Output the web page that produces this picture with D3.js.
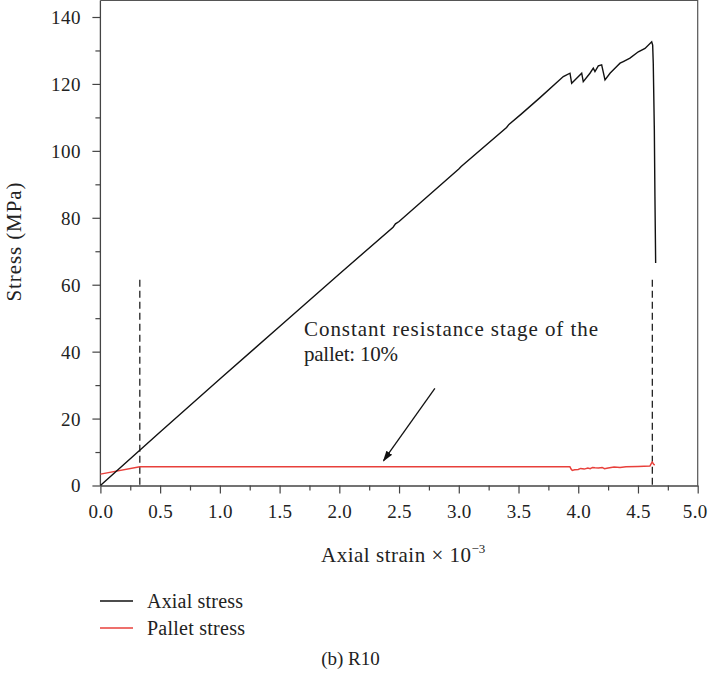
<!DOCTYPE html>
<html>
<head>
<meta charset="utf-8">
<script src="https://cdn.jsdelivr.net/npm/d3@7"></script>
<style>
  html, body { margin: 0; padding: 0; background: #fff; }
  svg { display: block; }
  text { font-family: "Liberation Serif", "DejaVu Serif", serif; fill: #222; }
</style>
</head>
<body>
<svg id="chart" width="709" height="679"></svg>
<script>
// Axial stress–strain curve (strain ×10^-3, stress MPa)
const axialStrain = [0, 0.5, 1.0, 1.5, 2.0, 2.45, 2.47, 2.5, 3.0, 3.02, 3.4, 3.42, 3.52, 3.68, 3.875, 3.931, 3.945, 3.987, 4.029, 4.042, 4.098, 4.126, 4.14, 4.168, 4.196, 4.224, 4.266, 4.322, 4.35, 4.377, 4.433, 4.503, 4.559, 4.615, 4.623, 4.628, 4.637, 4.642, 4.648];
const axialStress = [0, 16.0, 31.8, 47.5, 63.2, 77.2, 78.2, 78.9, 94.6, 95.3, 107.0, 107.9, 110.9, 115.9, 122.2, 123.2, 120.2, 121.7, 123.2, 120.7, 123.2, 124.7, 123.7, 125.4, 125.7, 121.2, 123.2, 125.2, 126.2, 126.7, 127.7, 129.6, 130.6, 132.6, 131.6, 126.2, 106.2, 86.3, 66.5];

// Pallet stress curve
const palletStrain = [0, 0.33, 1.0, 2.0, 3.0, 3.93, 3.94, 3.95, 3.97, 4.0, 4.02, 4.05, 4.08, 4.1, 4.12, 4.14, 4.17, 4.2, 4.22, 4.25, 4.3, 4.35, 4.4, 4.5, 4.6, 4.612, 4.62, 4.63, 4.64];
const palletStress = [3.4, 5.6, 5.6, 5.6, 5.6, 5.6, 4.9, 4.5, 4.7, 4.8, 5.1, 4.9, 5.2, 5.0, 5.4, 5.3, 5.2, 5.4, 5.0, 5.2, 5.5, 5.4, 5.6, 5.7, 5.8, 6.6, 7.0, 6.4, 6.1];

// Boundaries of the constant resistance stage
const stageBounds = [0.33, 4.62];
const stageTop = 61.5;

const xTicks = [0, 0.5, 1.0, 1.5, 2.0, 2.5, 3.0, 3.5, 4.0, 4.5, 5.0];
const yTicks = [0, 20, 40, 60, 80, 100, 120, 140];

const legendItems = [
  { name: "Axial stress", color: "#111", width: 96 },
  { name: "Pallet stress", color: "#e8403b", width: 98 }
];

const svg = d3.select("#chart");
const x = d3.scaleLinear().domain([0, 5]).range([100.4, 697.7]);
const y = d3.scaleLinear().domain([0, 140]).range([485.5, 17]);
const frameTop = 0.5;

// frame (top and right)
svg.append("path")
  .attr("d", `M${x(0)},${frameTop}H${x(5)}V${y(0)}`)
  .attr("fill", "none").attr("stroke", "#555").attr("stroke-width", 1.2);

// x axis
const xAxis = svg.append("g").attr("transform", `translate(0,${y(0)})`)
  .call(d3.axisBottom(x).tickValues(xTicks).tickFormat(d3.format(".1f")).tickSize(8).tickSizeOuter(0));
svg.append("g").attr("transform", `translate(0,${y(0)})`)
  .call(d3.axisBottom(x).tickValues(d3.range(0.25, 5, 0.5)).tickFormat("").tickSize(5).tickSizeOuter(0))
  .select(".domain").remove();

// y axis
const yAxis = svg.append("g").attr("transform", `translate(${x(0)},0)`)
  .call(d3.axisLeft(y).tickValues(yTicks).tickSize(8).tickSizeOuter(0));
yAxis.select(".domain").attr("d", `M0,${frameTop}V${y(0)}`);
svg.append("g").attr("transform", `translate(${x(0)},0)`)
  .call(d3.axisLeft(y).tickValues(d3.range(10, 140, 20)).tickFormat("").tickSize(5).tickSizeOuter(0))
  .select(".domain").remove();

svg.selectAll(".domain").attr("stroke", "#444").attr("stroke-width", 1.3);
svg.selectAll(".tick line").attr("stroke", "#444").attr("stroke-width", 1.2);
svg.selectAll(".tick text")
  .style("font-family", "'Liberation Serif', serif").style("font-size", "19px").attr("fill", "#222");
xAxis.selectAll(".tick text").attr("y", 11).attr("dy", "1.13em").attr("letter-spacing", 0.3)
  .attr("dx", d => d === 5 ? -3 : 0);
yAxis.selectAll(".tick text").attr("x", -19.5).attr("dy", "0.34em").attr("letter-spacing", 0.5);

// dashed stage boundaries
svg.selectAll(".stage").data(stageBounds).enter().append("line")
  .attr("x1", d => x(d)).attr("x2", d => x(d))
  .attr("y1", y(stageTop)).attr("y2", y(0))
  .attr("stroke", "#111").attr("stroke-width", 1.2).attr("stroke-dasharray", "7,4");

const line = d3.line().x(d => x(d[0])).y(d => y(d[1]));

svg.append("path")
  .datum(d3.zip(palletStrain, palletStress))
  .attr("d", line).attr("fill", "none")
  .attr("stroke", legendItems[1].color).attr("stroke-width", 1.5);

svg.append("path")
  .datum(d3.zip(axialStrain, axialStress))
  .attr("d", line).attr("fill", "none")
  .attr("stroke", legendItems[0].color).attr("stroke-width", 1.4);

// annotation
svg.append("text").attr("x", 304).attr("y", 336).style("font-size", "21px")
  .attr("textLength", 294).attr("lengthAdjust", "spacing")
  .text("Constant resistance stage of the");
svg.append("text").attr("x", 304).attr("y", 361).style("font-size", "21px")
  .attr("textLength", 94).attr("lengthAdjust", "spacing")
  .text("pallet: 10%");

svg.append("defs").append("marker")
  .attr("id", "arrow").attr("viewBox", "0 0 10 10").attr("refX", 9).attr("refY", 5)
  .attr("markerWidth", 11).attr("markerHeight", 11).attr("orient", "auto")
  .attr("markerUnits", "userSpaceOnUse")
  .append("path").attr("d", "M0,1.8L10,5L0,8.2Z").attr("fill", "#111");
svg.append("line")
  .attr("x1", x(2.8)).attr("y1", y(29))
  .attr("x2", x(2.37)).attr("y2", y(7.4))
  .attr("stroke", "#111").attr("stroke-width", 1.3)
  .attr("marker-end", "url(#arrow)");

// axis titles
svg.append("text")
  .attr("transform", `translate(21,242) rotate(-90)`)
  .attr("text-anchor", "middle").style("font-size", "21px")
  .attr("textLength", 119).attr("lengthAdjust", "spacing")
  .text("Stress (MPa)");

const xt = svg.append("text").attr("x", 321).attr("y", 562)
  .style("font-size", "21px");
xt.append("tspan").attr("textLength", 150).attr("lengthAdjust", "spacing").text("Axial strain × 10");
xt.append("tspan").attr("dy", -9).style("font-size", "13px").text("−3");

// legend
const lg = svg.append("g").selectAll("g").data(legendItems).enter().append("g")
  .attr("transform", (d, i) => `translate(100,${601 + i * 27})`);
lg.append("line").attr("x1", 0).attr("x2", 33).attr("stroke", d => d.color).attr("stroke-width", 1.3);
lg.append("text").attr("x", 147 - 100).attr("dy", "0.35em").style("font-size", "20px")
  .attr("textLength", d => d.width).attr("lengthAdjust", "spacing")
  .text(d => d.name);

// caption
svg.append("text").attr("x", 350.5).attr("y", 665)
  .attr("text-anchor", "middle")
  .style("font-size", "19px")
  .text("(b) R10");
</script>
</body>
</html>
